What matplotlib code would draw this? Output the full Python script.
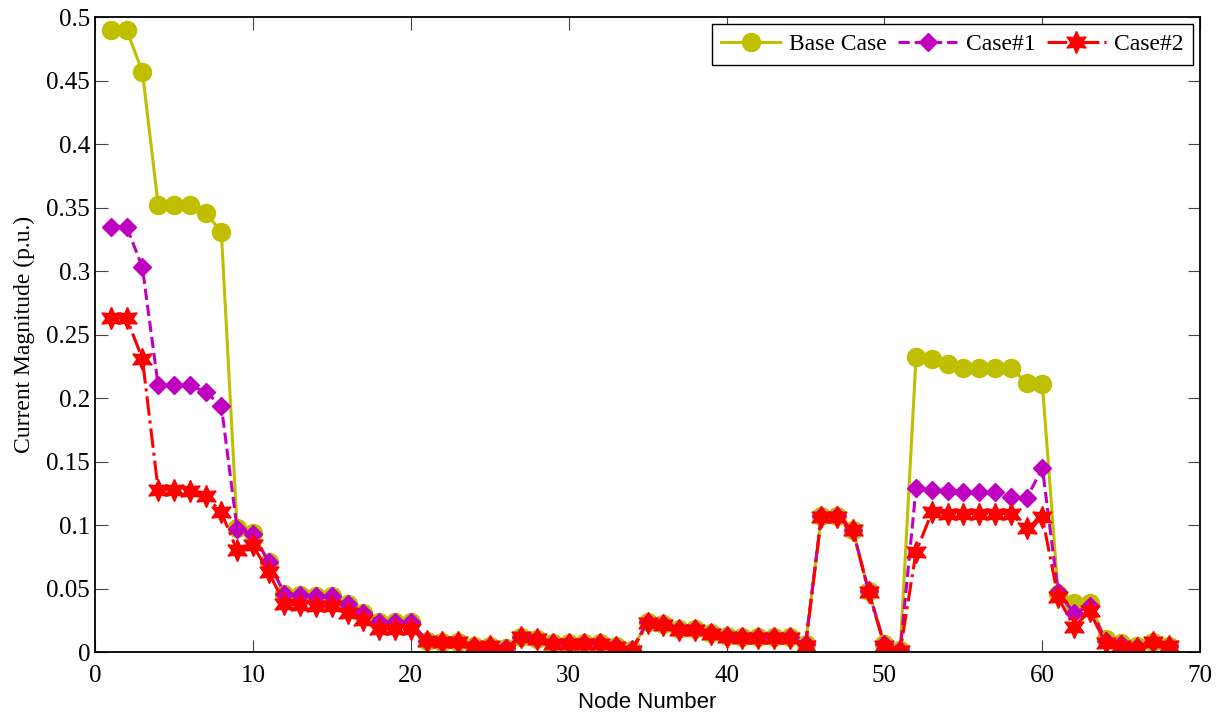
import numpy as np
import matplotlib
matplotlib.use("Agg")
import matplotlib.pyplot as plt

plt.rcParams['font.family'] = 'serif'
plt.rcParams['font.serif'] = ['Liberation Serif', 'DejaVu Serif']

# node currents (p.u.)
nodes = np.arange(1, 69)

base_case = [0.490, 0.490, 0.457, 0.352, 0.352, 0.352, 0.346, 0.331, 0.098, 0.094,
             0.071, 0.046, 0.045, 0.044, 0.044, 0.038, 0.031, 0.024, 0.024, 0.024,
             0.009, 0.008, 0.008, 0.005, 0.005, 0.003, 0.012, 0.010, 0.007, 0.007,
             0.007, 0.007, 0.005, 0.002, 0.024, 0.022, 0.018, 0.018, 0.015, 0.013,
             0.012, 0.012, 0.012, 0.012, 0.006, 0.107, 0.107, 0.096, 0.048, 0.006,
             0.002, 0.232, 0.231, 0.227, 0.224, 0.224, 0.224, 0.224, 0.212, 0.211,
             0.046, 0.039, 0.039, 0.010, 0.007, 0.005, 0.008, 0.005]

case1 = [0.335, 0.335, 0.303, 0.210, 0.210, 0.210, 0.205, 0.194, 0.097, 0.093,
         0.071, 0.046, 0.045, 0.044, 0.044, 0.038, 0.031, 0.024, 0.024, 0.024,
         0.009, 0.008, 0.008, 0.005, 0.005, 0.003, 0.012, 0.010, 0.007, 0.007,
         0.007, 0.007, 0.005, 0.002, 0.024, 0.022, 0.018, 0.018, 0.015, 0.013,
         0.012, 0.012, 0.012, 0.012, 0.006, 0.107, 0.107, 0.096, 0.048, 0.006,
         0.002, 0.129, 0.128, 0.127, 0.126, 0.126, 0.126, 0.122, 0.121, 0.145,
         0.047, 0.031, 0.036, 0.009, 0.006, 0.004, 0.008, 0.005]

case2 = [0.263, 0.263, 0.231, 0.128, 0.128, 0.127, 0.123, 0.110, 0.080, 0.084,
         0.063, 0.038, 0.037, 0.036, 0.036, 0.031, 0.025, 0.018, 0.018, 0.018,
         0.009, 0.008, 0.008, 0.004, 0.005, 0.002, 0.012, 0.010, 0.006, 0.006,
         0.006, 0.006, 0.004, 0.001, 0.023, 0.021, 0.017, 0.017, 0.014, 0.012,
         0.011, 0.011, 0.011, 0.011, 0.005, 0.106, 0.106, 0.096, 0.047, 0.005,
         0.001, 0.079, 0.110, 0.109, 0.109, 0.109, 0.109, 0.109, 0.098, 0.106,
         0.043, 0.020, 0.032, 0.007, 0.005, 0.003, 0.008, 0.005]

fig = plt.figure(figsize=(12.26, 7.15), dpi=100)
ax = fig.add_axes([0.0775, 0.088, 0.9015, 0.888])

ax.plot(nodes, base_case, '-', color='#bfbf00', lw=2.2, marker='o', ms=13,
        label='Base Case')
ax.plot(nodes, case1, '--', color='#bf00bf', lw=2.2, marker='D', ms=9.5,
        label='Case#1')
ax.plot(nodes, case2, '-.', color='red', lw=2.2, marker=(6, 1, 0), ms=16,
        label='Case#2')

ax.set_xlim(0, 70)
ax.set_ylim(0, 0.5)
ax.set_xticks(np.arange(0, 71, 10))
ax.set_yticks(np.arange(0, 0.51, 0.05))
ax.set_yticklabels(['0', '0.05', '0.1', '0.15', '0.2', '0.25', '0.3', '0.35',
                    '0.4', '0.45', '0.5'])
ax.tick_params(direction='in', top=True, right=True, labelsize=18, length=9,
               color='#444444')
ax.tick_params(axis='x', pad=9)
for s in ax.spines.values():
    s.set_linewidth(1.3)

ax.set_xlabel('Node Number', family='Liberation Sans', fontsize=16, labelpad=4)
ax.set_ylabel('Current Magnitude (p.u.)', fontsize=17, labelpad=8)

leg = ax.legend(loc='upper right', ncol=3, fontsize=17, fancybox=False,
                edgecolor='black', framealpha=1, handlelength=2.5,
                columnspacing=0.5, handletextpad=0.35, borderaxespad=0.3,
                borderpad=0.4)
leg.get_frame().set_linewidth(1.0)

fig.savefig('out.png', dpi=100)
